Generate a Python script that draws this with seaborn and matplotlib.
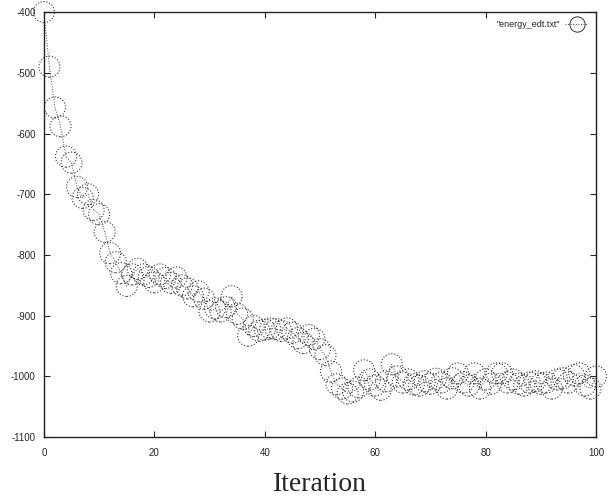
import numpy as np
import pandas as pd
import seaborn as sns
import matplotlib.pyplot as plt
from matplotlib.lines import Line2D

# energy per iteration
iteration = list(range(0, 101))
energy = [
    -400, -490, -557, -588, -638, -648, -688, -706, -700, -726,
    -733, -762, -797, -812, -830, -851, -832, -823, -832, -836,
    -845, -832, -838, -846, -837, -850, -855, -868, -860, -872,
    -893, -888, -893, -886, -868, -897, -905, -933, -917, -925,
    -923, -921, -922, -925, -921, -928, -937, -945, -932, -938,
    -955, -965, -992, -1013, -1020, -1028, -1025, -1018, -990, -1005,
    -1015, -1022, -1008, -980, -1000, -1010, -1005, -1013, -1015, -1008,
    -1012, -1004, -1010, -1020, -1003, -995, -1010, -1015, -995, -1020,
    -1005, -1012, -995, -995, -1010, -1005, -1012, -1015, -1010, -1008,
    -1012, -1010, -1020, -1005, -1003, -1010, -998, -995, -1015, -1020,
    -1000,
]
series_label = '"energy_edt.txt"'
y_ticks = [-1100, -1000, -900, -800, -700, -600, -500, -400]
x_ticks = [0, 20, 40, 60, 80, 100]

if __name__ == "__main__":
    sns.set_style("ticks")
    plt.rcParams['font.family'] = ['Liberation Sans', 'DejaVu Sans']
    plt.rcParams['axes.unicode_minus'] = False

    df = pd.DataFrame({'Iteration': iteration, 'Energy': energy})

    fig = plt.figure(figsize=(6.1, 5.03), dpi=100)
    ax = fig.add_axes([0.072, 0.131, 0.905, 0.845])

    sns.lineplot(x='Iteration', y='Energy', data=df, ax=ax, color='#444444',
                 linewidth=0.7, linestyle=':', legend=False)
    sns.scatterplot(x='Iteration', y='Energy', data=df, ax=ax, s=230,
                    facecolor='none', edgecolor='#333333', linewidth=0.8,
                    linestyle=':', legend=False, clip_on=False, zorder=3)

    ax.set_xlim(0, 100)
    ax.set_ylim(-1100, -400)
    ax.set_xticks(x_ticks)
    ax.set_yticks(y_ticks)
    ax.tick_params(direction='in', top=True, right=True, labelsize=7,
                   length=4, width=0.8, pad=6)
    ax.tick_params(axis='x', pad=8)
    for sp in ax.spines.values():
        sp.set_linewidth(1.0)
        sp.set_color('#222222')

    ax.set_ylabel('')
    ax.set_xlabel('Iteration', family=['Liberation Serif', 'DejaVu Serif'],
                  fontsize=20, labelpad=10)

    handle = Line2D([], [], color='#444444', linewidth=0.7, linestyle=':',
                    marker='o', markersize=11, markerfacecolor='none',
                    markeredgecolor='#333333', markeredgewidth=0.7)
    ax.legend([handle], [series_label], loc='upper right', frameon=False,
              markerfirst=False, fontsize=6.5, handlelength=2.5,
              borderaxespad=0.5, handletextpad=0.6)

    plt.savefig("out.png", dpi=100)
